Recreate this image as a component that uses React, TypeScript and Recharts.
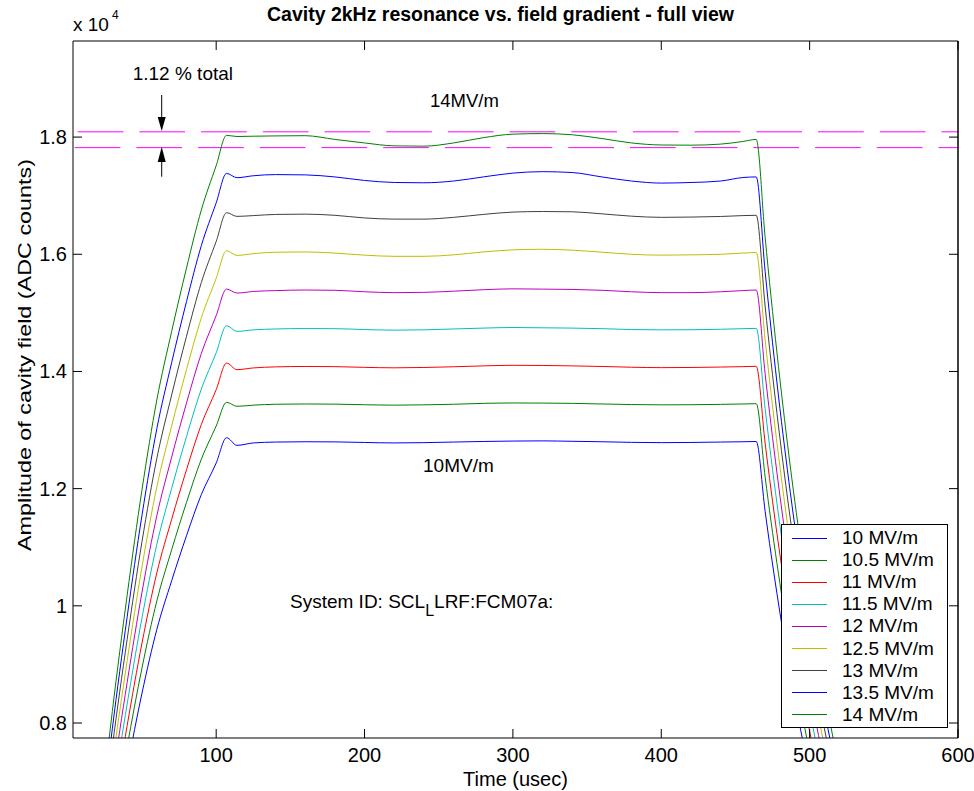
import { LineChart, Line, XAxis, YAxis, ReferenceLine, Legend } from 'recharts'

const FONT = '"Liberation Sans", Arial, Helvetica, sans-serif'

// time axis (usec)
const times = [20, 30, 40, 50, 60, 70, 80, 90, 100, 107, 114, 125, 140, 160, 180, 200, 220, 240, 260, 280, 300, 320, 340, 360, 380, 400, 420, 440, 455, 464, 470, 478, 486, 494, 502, 510, 520, 535]

// cavity field amplitude (ADC counts), one array per gradient
const mv10 = [4222, 5822, 7229, 8509, 9596, 10428, 11196, 11899, 12437, 12870, 12739, 12780, 12795, 12800, 12798, 12788, 12780, 12785, 12795, 12805, 12812, 12815, 12808, 12800, 12790, 12785, 12788, 12795, 12800, 12805, 11614, 10206, 8964, 7875, 6915, 6070, 5160, 4046]
const mv105 = [4437, 6117, 7596, 8940, 10083, 10957, 11764, 12503, 13068, 13473, 13405, 13425, 13440, 13445, 13442, 13432, 13425, 13430, 13440, 13455, 13462, 13460, 13455, 13445, 13435, 13430, 13432, 13438, 13445, 13450, 12199, 10720, 9415, 8272, 7263, 6375, 5420, 4250]
const mv11 = [4647, 6407, 7956, 9365, 10562, 11477, 12322, 13096, 13688, 14143, 14031, 14060, 14078, 14085, 14082, 14070, 14062, 14068, 14080, 14095, 14105, 14102, 14095, 14085, 14072, 14065, 14068, 14075, 14082, 14088, 12778, 11228, 9862, 8664, 7608, 6678, 5677, 4452]
const mv115 = [4861, 6702, 8322, 9795, 11048, 12005, 12889, 13699, 14318, 14781, 14684, 14710, 14725, 14732, 14730, 14715, 14705, 14710, 14725, 14740, 14750, 14745, 14740, 14730, 14715, 14710, 14712, 14720, 14730, 14735, 13365, 11744, 10315, 9062, 7957, 6984, 5938, 4656]
const mv12 = [5077, 7000, 8692, 10230, 11538, 12538, 13461, 14307, 14953, 15406, 15338, 15365, 15380, 15390, 15385, 15360, 15345, 15350, 15370, 15395, 15410, 15405, 15400, 15385, 15360, 15345, 15345, 15360, 15380, 15390, 13959, 12266, 10773, 9465, 8311, 7295, 6202, 4863]
const mv125 = [5293, 7297, 9061, 10665, 12029, 13071, 14033, 14915, 15589, 16061, 15981, 16010, 16035, 16040, 16020, 15985, 15965, 15965, 15990, 16040, 16075, 16085, 16070, 16035, 16000, 15985, 15990, 16000, 16020, 16030, 14539, 12776, 11221, 9858, 8656, 7598, 6460, 5065]
const mv13 = [5506, 7592, 9428, 11096, 12515, 13599, 14600, 15518, 16219, 16710, 16647, 16660, 16680, 16685, 16665, 16620, 16600, 16600, 16630, 16680, 16720, 16730, 16725, 16690, 16650, 16630, 16635, 16645, 16660, 16665, 15115, 13282, 11666, 10249, 8999, 7899, 6716, 5266]
const mv135 = [5730, 7900, 9810, 11546, 13022, 14151, 15193, 16148, 16877, 17380, 17307, 17340, 17360, 17355, 17320, 17260, 17225, 17220, 17250, 17320, 17385, 17410, 17395, 17320, 17250, 17215, 17225, 17250, 17310, 17320, 15709, 13804, 12124, 10652, 9353, 8210, 6980, 5473]
const mv14 = [5946, 8198, 10180, 11981, 13513, 14684, 15765, 16756, 17513, 18030, 18010, 18015, 18020, 18024, 17960, 17900, 17850, 17845, 17900, 17990, 18050, 18060, 18040, 17975, 17900, 17865, 17862, 17880, 17925, 17960, 16290, 14314, 12572, 11045, 9698, 8513, 7238, 5675]

const seriesNames = ['10 MV/m', '10.5 MV/m', '11 MV/m', '11.5 MV/m', '12 MV/m', '12.5 MV/m', '13 MV/m', '13.5 MV/m', '14 MV/m']
const seriesValues = [mv10, mv105, mv11, mv115, mv12, mv125, mv13, mv135, mv14]
const colors = ['#0000ff', '#008000', '#ff0000', '#00bfbf', '#bf00bf', '#bfbf00', '#404040', '#0000ff', '#008000']

// 1.12 % band
const bandLevels = [18090, 17820]

const xTicks = [100, 200, 300, 400, 500, 600]
const yTicks = [8000, 10000, 12000, 14000, 16000, 18000]

const data = times.map((t, i) => {
  const row: Record<string, number> = { t }
  seriesValues.forEach((vals, k) => {
    row['s' + k] = vals[i]
  })
  return row
})

const XTickBottom = ({ x, y, payload }: any) => (
  <g>
    <line x1={x} x2={x} y1={y} y2={y - 9} stroke="#000" />
    <text x={x} y={y + 24} textAnchor="middle" fontSize={20} fontFamily={FONT} fill="#000">
      {payload.value}
    </text>
  </g>
)

const XTickTop = ({ x, y }: any) => <line x1={x} x2={x} y1={y} y2={y + 9} stroke="#000" />

const YTickLeft = ({ x, y, payload }: any) => (
  <g>
    <line x1={x} x2={x + 9} y1={y} y2={y} stroke="#000" />
    <text x={x - 6} y={y + 7} textAnchor="end" fontSize={20} fontFamily={FONT} fill="#000">
      {payload.value / 10000}
    </text>
  </g>
)

const YTickRight = ({ x, y }: any) => <line x1={x} x2={x - 9} y1={y} y2={y} stroke="#000" />

const renderLegend = () => (
  <div
    style={{
      width: 167,
      height: 204,
      boxSizing: 'border-box',
      border: '1px solid #000',
      background: '#fff',
      paddingTop: 2,
      fontFamily: FONT,
      fontSize: 19,
      color: '#000',
    }}
  >
    {seriesNames.map((name, k) => (
      <div key={name} style={{ height: 22.1, display: 'flex', alignItems: 'center' }}>
        <span style={{ display: 'inline-block', width: 35, borderTop: `1px solid ${colors[k]}`, marginLeft: 10, marginRight: 15 }} />
        <span>{name}</span>
      </div>
    ))}
  </div>
)

export default function App() {
  return (
    <div style={{ position: 'absolute', left: 0, top: 0, width: 974, height: 791, background: '#fff' }}>
      <LineChart width={974} height={791} data={data} margin={{ top: 0, right: 0, bottom: 0, left: 0 }}>
        <XAxis
          dataKey="t"
          type="number"
          domain={[3.5, 600]}
          ticks={xTicks}
          allowDataOverflow
          height={53}
          tickSize={0}
          tickMargin={0}
          tickLine={false}
          axisLine={{ stroke: '#000' }}
          tick={<XTickBottom />}
          interval={0}
        />
        <XAxis
          xAxisId="top"
          orientation="top"
          dataKey="t"
          type="number"
          domain={[3.5, 600]}
          ticks={xTicks}
          allowDataOverflow
          height={41}
          tickSize={0}
          tickMargin={0}
          tickLine={false}
          axisLine={{ stroke: '#000' }}
          tick={<XTickTop />}
          interval={0}
        />
        <YAxis
          type="number"
          domain={[7744, 19640]}
          ticks={yTicks}
          allowDataOverflow
          width={73}
          tickSize={0}
          tickMargin={0}
          tickLine={false}
          axisLine={{ stroke: '#000' }}
          tick={<YTickLeft />}
          interval={0}
        />
        <YAxis
          yAxisId="right"
          orientation="right"
          type="number"
          domain={[7744, 19640]}
          ticks={yTicks}
          allowDataOverflow
          width={16}
          tickSize={0}
          tickMargin={0}
          tickLine={false}
          axisLine={{ stroke: '#000', strokeWidth: 1.5 }}
          tick={<YTickRight />}
          interval={0}
        />
        {bandLevels.map((v, i) => (
          <ReferenceLine
            key={v}
            y={v}
            stroke="#ff00ff"
            strokeWidth={1}
            strokeDasharray="45.7 16"
            strokeDashoffset={i === 0 ? 57 : 60}
          />
        ))}
        {seriesNames.map((name, k) => (
          <Line
            key={name}
            type="monotone"
            dataKey={'s' + k}
            name={name}
            stroke={colors[k]}
            strokeWidth={1}
            dot={false}
            activeDot={false}
            isAnimationActive={false}
          />
        ))}
        <Legend
          layout="vertical"
          align="center"
          verticalAlign="middle"
          content={renderLegend}
          wrapperStyle={{ left: 781, top: 524, width: 167, height: 204 }}
        />
      </LineChart>
      <svg
        width={974}
        height={791}
        style={{ position: 'absolute', left: 0, top: 0, pointerEvents: 'none' }}
        fontFamily={FONT}
        fill="#000"
      >
        <text x={500.5} y={21} textAnchor="middle" fontSize={19.5} fontWeight="bold">
          Cavity 2kHz resonance vs. field gradient - full view
        </text>
        <text x={73} y={31} fontSize={19}>x 10</text>
        <text x={112} y={19} fontSize={12}>4</text>
        <text x={132.7} y={79.5} fontSize={19}>1.12 % total</text>
        <line x1={161.7} x2={161.7} y1={95} y2={120} stroke="#000" />
        <polygon points="157.7,117 165.7,117 161.7,131" fill="#000" />
        <line x1={161.7} x2={161.7} y1={160} y2={176.7} stroke="#000" />
        <polygon points="157.7,162 165.7,162 161.7,147" fill="#000" />
        <text x={430} y={107} fontSize={18.5}>14MV/m</text>
        <text x={423} y={471.7} fontSize={19}>10MV/m</text>
        <text x={290} y={608.3} fontSize={19}>
          System ID: SCL
          <tspan dy={8} fontSize={16}>L</tspan>
          <tspan dy={-8}>LRF:FCM07a:</tspan>
        </text>
        <text x={515.5} y={786} textAnchor="middle" fontSize={20}>Time (usec)</text>
        <text
          transform="translate(31, 355) rotate(-90)"
          textAnchor="middle"
          fontSize={19}
          textLength={392}
          lengthAdjust="spacingAndGlyphs"
        >
          Amplitude of cavity field (ADC counts)
        </text>
      </svg>
    </div>
  )
}
